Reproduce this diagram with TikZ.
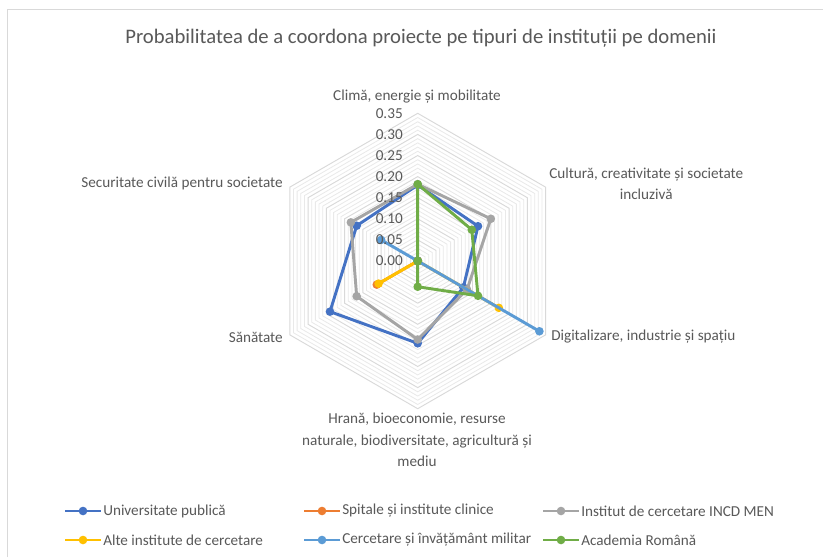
\documentclass[tikz,border=0pt]{standalone}
\usepackage{fontspec}
\setmainfont{Carlito}
\definecolor{ublue}{HTML}{4472C4}
\definecolor{uorange}{HTML}{ED7D31}
\definecolor{ugray}{HTML}{A5A5A5}
\definecolor{uyellow}{HTML}{FFC000}
\definecolor{ulblue}{HTML}{5B9BD5}
\definecolor{ugreen}{HTML}{70AD47}
\definecolor{txtgray}{HTML}{595959}
\definecolor{gridmajor}{HTML}{D9D9D9}
\definecolor{gridminor}{HTML}{E9E9E9}
\newcommand\radarseries[8]{%
  \foreach \v [count=\n] in {#3,#4,#5,#6,#7,#8} {\coordinate (#2\n) at ({-90+60*(\n-1)}:{\v*422});}
  \draw[serline,#1] (#21) -- (#22) -- (#23) -- (#24) -- (#25) -- (#26) -- cycle;
  \foreach \n in {1,...,6} {\fill[#1] (#2\n) circle (4.3);}
}
\newcommand\legendentry[4]{%
  \coordinate (#2a) at (#3,#4);
  \coordinate (#2b) at ({#3+36},#4);
  \draw[serline,#1] (#2a) -- (#2b);
  \fill[#1] ($(#2a)!0.5!(#2b)$) circle (4.3);
}
\usetikzlibrary{calc}
\begin{document}
\begin{tikzpicture}[x=0.75pt,y=-0.75pt,
  every node/.style={text=txtgray,font=\fontsize{11.4pt}{16pt}\selectfont,inner sep=0pt},
  serline/.style={line width=2.2pt,line join=round},
  minorring/.style={draw=gridminor,line width=0.6pt},
  majorring/.style={draw=gridmajor,line width=0.7pt}]
\useasboundingbox (0,0) rectangle (823,557);
\fill[white] (0,0) rectangle (823,557);
\draw[gridmajor,line width=1.2pt] (7.5,557) -- (7.5,9.5) -- (823,9.5);
\node (title) [font=\fontsize{15.5pt}{18pt}\selectfont] at (421,38) {Probabilitatea de a coordona proiecte pe tipuri de instituții pe domenii};
\begin{scope}[shift={(417.7,261)}]
  \foreach \i in {1,...,35} {
    \pgfmathsetmacro\r{4.22*\i}
    \pgfmathtruncatemacro\m{mod(\i,5)}
    \ifnum\m=0
      \draw[majorring] (-90:\r) -- (-30:\r) -- (30:\r) -- (90:\r) -- (150:\r) -- (210:\r) -- cycle;
    \else
      \draw[minorring] (-90:\r) -- (-30:\r) -- (30:\r) -- (90:\r) -- (150:\r) -- (210:\r) -- cycle;
    \fi
  }
  \radarseries{ublue}{bl}{0.18}{0.165}{0.125}{0.195}{0.24}{0.167}
  \radarseries{uorange}{or}{0}{0}{0}{0}{0.112}{0}
  \radarseries{ugray}{gr}{0.182}{0.2}{0.135}{0.186}{0.167}{0.183}
  \radarseries{uyellow}{ye}{0}{0}{0.222}{0}{0.107}{0}
  \radarseries{ulblue}{lb}{0}{0}{0.333}{0}{0}{0.1}
  \radarseries{ugreen}{gn}{0.182}{0.148}{0.165}{0.061}{0}{0}
\end{scope}
% value axis labels
\foreach \i/\t in {0/0.00,1/0.05,2/0.10,3/0.15,4/0.20,5/0.25,6/0.30,7/0.35} {
  \node (tick\i) [anchor=east] at (403,{261-21.1*\i}) {\t};
}
% category labels
\node (cat1) at (417,97) {Climă, energie și mobilitate};
\node (cat2) [anchor=west,align=center] at (549,184) {Cultură, creativitate și societate\\incluzivă};
\node (cat3) [anchor=west] at (551,337) {Digitalizare, industrie și spațiu};
\node (cat4) [align=center,anchor=north] at (417,413) {Hrană, bioeconomie, resurse\\naturale, biodiversitate, agricultură și\\mediu};
\node (cat5) [anchor=east] at (283,337) {Sănătate};
\node (cat6) [anchor=east] at (283,183) {Securitate civilă pentru societate};
% legend
\legendentry{ublue}{lg1}{65}{511}
\node (lt1) [anchor=west] at (103,511) {Universitate publică};
\legendentry{uorange}{lg2}{304}{511}
\node (lt2) [anchor=west] at (342,511) {Spitale și institute clinice};
\legendentry{ugray}{lg3}{543}{511}
\node (lt3) [anchor=west] at (581,511) {Institut de cercetare INCD MEN};
\legendentry{uyellow}{lg4}{65}{540}
\node (lt4) [anchor=west] at (103,540) {Alte institute de cercetare};
\legendentry{ulblue}{lg5}{304}{540}
\node (lt5) [anchor=west] at (342,540) {Cercetare și învățământ militar};
\legendentry{ugreen}{lg6}{543}{540}
\node (lt6) [anchor=west] at (581,540) {Academia Română};
\end{tikzpicture}
\end{document}
